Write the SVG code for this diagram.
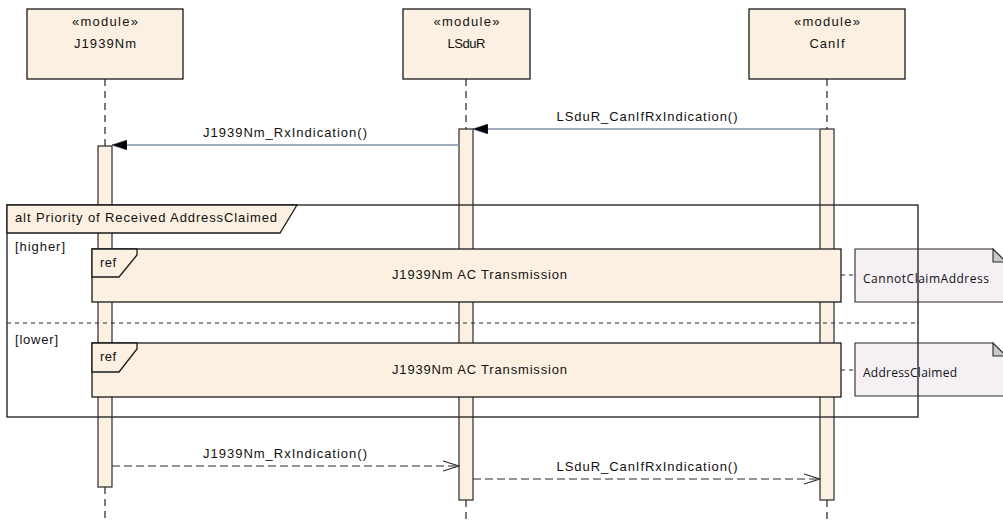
<svg xmlns="http://www.w3.org/2000/svg" width="1003" height="520" viewBox="0 0 1003 520">
  <style>
    .box { fill: #fbf0e1; stroke: #1a1a1a; stroke-width: 1.3; }
    .bar { fill: #fbf0e1; stroke: #2a2a2a; stroke-width: 1.2; }
    .life { stroke: #222; stroke-width: 1.2; stroke-dasharray: 7 5; fill: none; }
    .t { font-family: "Liberation Sans", Arial, sans-serif; font-size: 13px; fill: #111; }
    .nt { font-family: "Open Sans", "DejaVu Sans", sans-serif; font-size: 12px; fill: #111; }
    .call { stroke: #7f8ea6; stroke-width: 1.4; fill: none; }
    .ret { stroke: #2a2a2a; stroke-width: 1.1; stroke-dasharray: 8 4; fill: none; }
    .frame { fill: none; stroke: #2a2a2a; stroke-width: 1.4; }
    .sep { stroke: #2a2a2a; stroke-width: 1.1; stroke-dasharray: 4 4; fill: none; }
    .note { fill: #f4f0f4; stroke: #2a2a2a; stroke-width: 1.1; }
    .fold { fill: #c9c9c9; stroke: #2a2a2a; stroke-width: 1.1; }
    .link { stroke: #2a2a2a; stroke-width: 1; stroke-dasharray: 4 4; fill: none; }
  </style>
  <defs>
    <marker id="solidHead" markerUnits="userSpaceOnUse" viewBox="0 0 15 10" refX="15" refY="5" markerWidth="15" markerHeight="10" orient="auto">
      <path d="M0,0 L15,5 L0,10 Z" fill="#000" stroke="#34405a" stroke-width="0.6"/>
    </marker>
    <marker id="openHead" markerUnits="userSpaceOnUse" viewBox="0 0 17 12" refX="16" refY="6" markerWidth="17" markerHeight="12" orient="auto">
      <path d="M0,1 L16,6 L0,11" fill="none" stroke="#222" stroke-width="1.1"/>
    </marker>
  </defs>
  <rect width="1003" height="520" fill="#fff"/>

  <!-- lifeline: J1939Nm -->
  <g id="J1939Nm">
    <rect class="box" x="27" y="9" width="156" height="70"/>
    <text class="t" x="105" y="26" text-anchor="middle" textLength="66" lengthAdjust="spacing">«module»</text>
    <text class="t" x="105" y="48" text-anchor="middle" textLength="62" lengthAdjust="spacing">J1939Nm</text>
    <line class="life" x1="105" y1="79" x2="105" y2="146"/>
    <line class="life" x1="105" y1="487" x2="105" y2="520"/>
    <rect class="bar" x="98" y="146" width="14" height="341"/>
  </g>

  <!-- lifeline: LSduR -->
  <g id="LSduR">
    <rect class="box" x="403" y="9" width="127" height="70"/>
    <text class="t" x="466.5" y="26" text-anchor="middle" textLength="66" lengthAdjust="spacing">«module»</text>
    <text class="t" x="466.5" y="48" text-anchor="middle" textLength="38" lengthAdjust="spacing">LSduR</text>
    <line class="life" x1="466" y1="79" x2="466" y2="129"/>
    <line class="life" x1="466" y1="500" x2="466" y2="520"/>
    <rect class="bar" x="459" y="129" width="14" height="371"/>
  </g>

  <!-- lifeline: CanIf -->
  <g id="CanIf">
    <rect class="box" x="749" y="9" width="156" height="70"/>
    <text class="t" x="827" y="26" text-anchor="middle" textLength="66" lengthAdjust="spacing">«module»</text>
    <text class="t" x="827" y="48" text-anchor="middle" textLength="35" lengthAdjust="spacing">CanIf</text>
    <line class="life" x1="827" y1="79" x2="827" y2="129"/>
    <line class="life" x1="827" y1="500" x2="827" y2="520"/>
    <rect class="bar" x="820" y="129" width="14" height="371"/>
  </g>

  <!-- messages and note links -->
  <g id="connectors">
    <line class="call" x1="819" y1="129" x2="473" y2="129" marker-end="url(#solidHead)"/>
    <text class="t" x="647" y="121" text-anchor="middle" textLength="181" lengthAdjust="spacing">LSduR_CanIfRxIndication()</text>
    <line class="call" x1="459" y1="145" x2="112" y2="145" marker-end="url(#solidHead)"/>
    <text class="t" x="285" y="137" text-anchor="middle" textLength="164" lengthAdjust="spacing">J1939Nm_RxIndication()</text>
    <line class="ret" x1="112" y1="466" x2="459" y2="466" marker-end="url(#openHead)"/>
    <text class="t" x="285" y="458" text-anchor="middle" textLength="164" lengthAdjust="spacing">J1939Nm_RxIndication()</text>
    <line class="ret" x1="473" y1="479" x2="820" y2="479" marker-end="url(#openHead)"/>
    <text class="t" x="647" y="471" text-anchor="middle" textLength="181" lengthAdjust="spacing">LSduR_CanIfRxIndication()</text>
    <line class="link" x1="841" y1="275" x2="855" y2="275"/>
    <line class="link" x1="841" y1="370" x2="855" y2="370"/>
  </g>

  <!-- notes -->
  <g id="noteCannotClaim">
    <path class="note" d="M855,249 H993 L1006,262 V302 H855 Z"/>
    <path class="fold" d="M993,249 V262 H1006 Z"/>
    <text class="nt" x="863" y="283" textLength="126" lengthAdjust="spacing">CannotClaimAddress</text>
  </g>
  <g id="noteAddressClaimed">
    <path class="note" d="M855,343 H993 L1006,356 V396 H855 Z"/>
    <path class="fold" d="M993,343 V356 H1006 Z"/>
    <text class="nt" x="863" y="377" textLength="94" lengthAdjust="spacing">AddressClaimed</text>
  </g>

  <!-- combined fragment: alt -->
  <g id="altFragment">
    <rect class="frame" x="7" y="205" width="911" height="212"/>
    <line class="sep" x1="7" y1="323" x2="918" y2="323"/>
    <path class="box" d="M7,205 H297 L280,233 H7 Z"/>
    <text class="t" x="15" y="222" textLength="262" lengthAdjust="spacing">alt Priority of Received AddressClaimed</text>
    <text class="t" x="15" y="251" textLength="50" lengthAdjust="spacing">[higher]</text>
    <text class="t" x="15" y="344" textLength="43" lengthAdjust="spacing">[lower]</text>
  </g>

  <!-- interaction uses -->
  <g id="refHigher">
    <rect class="box" x="92" y="249" width="749" height="53"/>
    <path class="box" d="M92,249 H137 V255 L119,277 H92 Z"/>
    <text class="t" x="100" y="267" textLength="16" lengthAdjust="spacing">ref</text>
    <text class="t" x="479.5" y="279" text-anchor="middle" textLength="175" lengthAdjust="spacing">J1939Nm AC Transmission</text>
  </g>
  <g id="refLower">
    <rect class="box" x="92" y="343" width="749" height="54"/>
    <path class="box" d="M92,343 H137 V349 L119,372 H92 Z"/>
    <text class="t" x="100" y="361" textLength="16" lengthAdjust="spacing">ref</text>
    <text class="t" x="479.5" y="374" text-anchor="middle" textLength="175" lengthAdjust="spacing">J1939Nm AC Transmission</text>
  </g>
</svg>
